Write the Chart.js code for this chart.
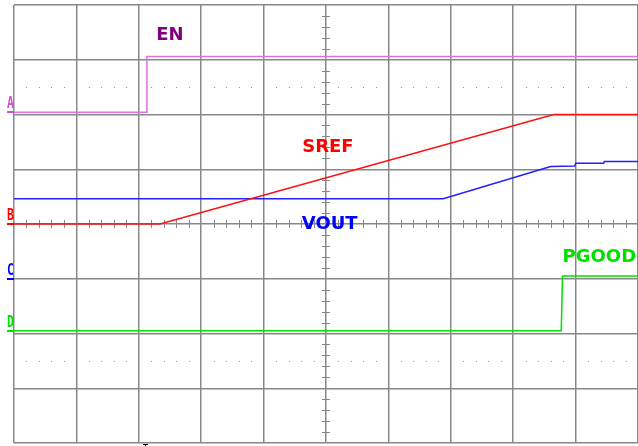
<!DOCTYPE html>
<html>
<head>
<meta charset="utf-8">
<script src="https://cdn.jsdelivr.net/npm/chart.js@4.4.1/dist/chart.umd.min.js"></script>
<style>
  html, body { margin: 0; padding: 0; background: #fff; }
  #wrap { width: 638px; height: 446px; }
</style>
</head>
<body>
<div id="wrap"><canvas id="scope"></canvas></div>
<script>
// scope screen: 10 x-divisions, 8 y-divisions (0 at bottom)
const enTime = [0, 2.13, 2.13, 10];
const enLevel = [6.04, 6.04, 7.06, 7.06];

const srefTime = [0, 2.34, 8.65, 10];
const srefLevel = [4.0, 4.0, 6.0, 6.0];

const voutTime = [0, 6.88, 8.6, 8.99, 9.0, 9.45, 9.46, 10];
const voutLevel = [4.46, 4.46, 5.05, 5.06, 5.11, 5.11, 5.14, 5.14];

const pgoodTime = [0, 8.77, 8.79, 10];
const pgoodLevel = [2.05, 2.05, 3.05, 3.05];

// channel name, ground level, colour
const markerNames = ['A', 'B', 'C', 'D'];
const markerLevels = [6.04, 4.0, 3.0, 2.05];
const markerColors = ['#d050d0', '#ff0000', '#0000ff', '#00e000'];

// trace labels: text, x, y
const labelNames = ['EN', 'SREF', 'VOUT', 'PGOOD'];
const labelX = [2.5, 5.03, 5.06, 9.38];
const labelY = [7.45, 5.4, 3.99, 3.39];
const labelColors = ['#800080', '#ff0000', '#0000ff', '#00e000'];

function pts(t, v) {
    return t.map((x, i) => ({ x: x, y: v[i] }));
}

function trace(label, t, v, color) {
    return {
        label: label,
        data: pts(t, v),
        borderColor: color,
        borderWidth: 1.5,
        pointRadius: 0,
        fill: false,
        tension: 0
    };
}

const scopeDecor = {
    id: 'scopeDecor',
    beforeDatasetsDraw(chart) {
        const { ctx, scales: { x, y } } = chart;
        ctx.save();
        ctx.fillStyle = '#999';
        // dotted rows
        [6.5, 1.5].forEach(row => {
            const py = y.getPixelForValue(row);
            for (let i = 0; i < 50; i++) {
                if (i % 5 === 0) continue;
                const px = x.getPixelForValue(i / 5);
                ctx.fillRect(Math.round(px), Math.round(py), 1, 1);
            }
        });
        // centre axis ticks
        ctx.strokeStyle = '#888';
        ctx.lineWidth = 1;
        const cx = x.getPixelForValue(5);
        const cy = y.getPixelForValue(4);
        for (let i = 0; i <= 50; i++) {
            if (i % 5 === 0) continue;
            const px = Math.round(x.getPixelForValue(i / 5)) + 0.5;
            ctx.beginPath();
            ctx.moveTo(px, cy - 4);
            ctx.lineTo(px, cy + 4);
            ctx.stroke();
        }
        for (let i = 0; i <= 40; i++) {
            if (i % 5 === 0) continue;
            const py = Math.round(y.getPixelForValue(i / 5)) + 0.5;
            ctx.beginPath();
            ctx.moveTo(cx - 4, py);
            ctx.lineTo(cx + 4, py);
            ctx.stroke();
        }
        ctx.restore();
    },
    afterDatasetsDraw(chart) {
        const { ctx, scales: { x, y } } = chart;
        ctx.save();
        // channel ground markers on the left edge (tall narrow letters)
        ctx.font = 'bold 16px "DejaVu Sans Mono"';
        ctx.textAlign = 'left';
        ctx.textBaseline = 'alphabetic';
        markerNames.forEach((m, i) => {
            const py = y.getPixelForValue(markerLevels[i]);
            ctx.fillStyle = markerColors[i];
            ctx.save();
            ctx.translate(7, py - 4);
            ctx.scale(0.72, 1);
            ctx.fillText(m, 0, 0);
            ctx.restore();
            ctx.fillRect(7, Math.round(py) - 1, 7, 2);
        });
        // trace names
        ctx.font = 'bold 18px "DejaVu Sans"';
        ctx.textAlign = 'center';
        ctx.textBaseline = 'middle';
        labelNames.forEach((t, i) => {
            ctx.fillStyle = labelColors[i];
            ctx.fillText(t, x.getPixelForValue(labelX[i]), y.getPixelForValue(labelY[i]));
        });
        // trigger marker at bottom
        const tx = x.getPixelForValue(2.1);
        const by = y.getPixelForValue(0);
        ctx.fillStyle = '#000';
        ctx.fillRect(Math.round(tx), by + 1, 1, 3);
        ctx.fillRect(Math.round(tx) - 2, by + 1, 5, 1);
        ctx.restore();
    }
};

new Chart(document.getElementById('scope'), {
    type: 'line',
    data: {
        datasets: [
            trace('EN', enTime, enLevel, '#e070e0'),
            trace('SREF', srefTime, srefLevel, '#ff1010'),
            trace('VOUT', voutTime, voutLevel, '#2020ff'),
            trace('PGOOD', pgoodTime, pgoodLevel, '#00e000')
        ]
    },
    options: {
        responsive: true,
        maintainAspectRatio: false,
        animation: false,
        layout: { padding: { left: 14, top: 5, right: 0, bottom: 3 } },
        scales: {
            x: {
                type: 'linear',
                min: 0,
                max: 10,
                ticks: { display: false, stepSize: 1 },
                grid: { color: '#888', lineWidth: 1.5, drawTicks: false },
                border: { display: false }
            },
            y: {
                type: 'linear',
                min: 0,
                max: 8,
                ticks: { display: false, stepSize: 1 },
                grid: { color: '#888', lineWidth: 1.5, drawTicks: false },
                border: { display: false }
            }
        },
        plugins: {
            legend: { display: false },
            tooltip: { enabled: false }
        }
    },
    plugins: [scopeDecor]
});
</script>
</body>
</html>
